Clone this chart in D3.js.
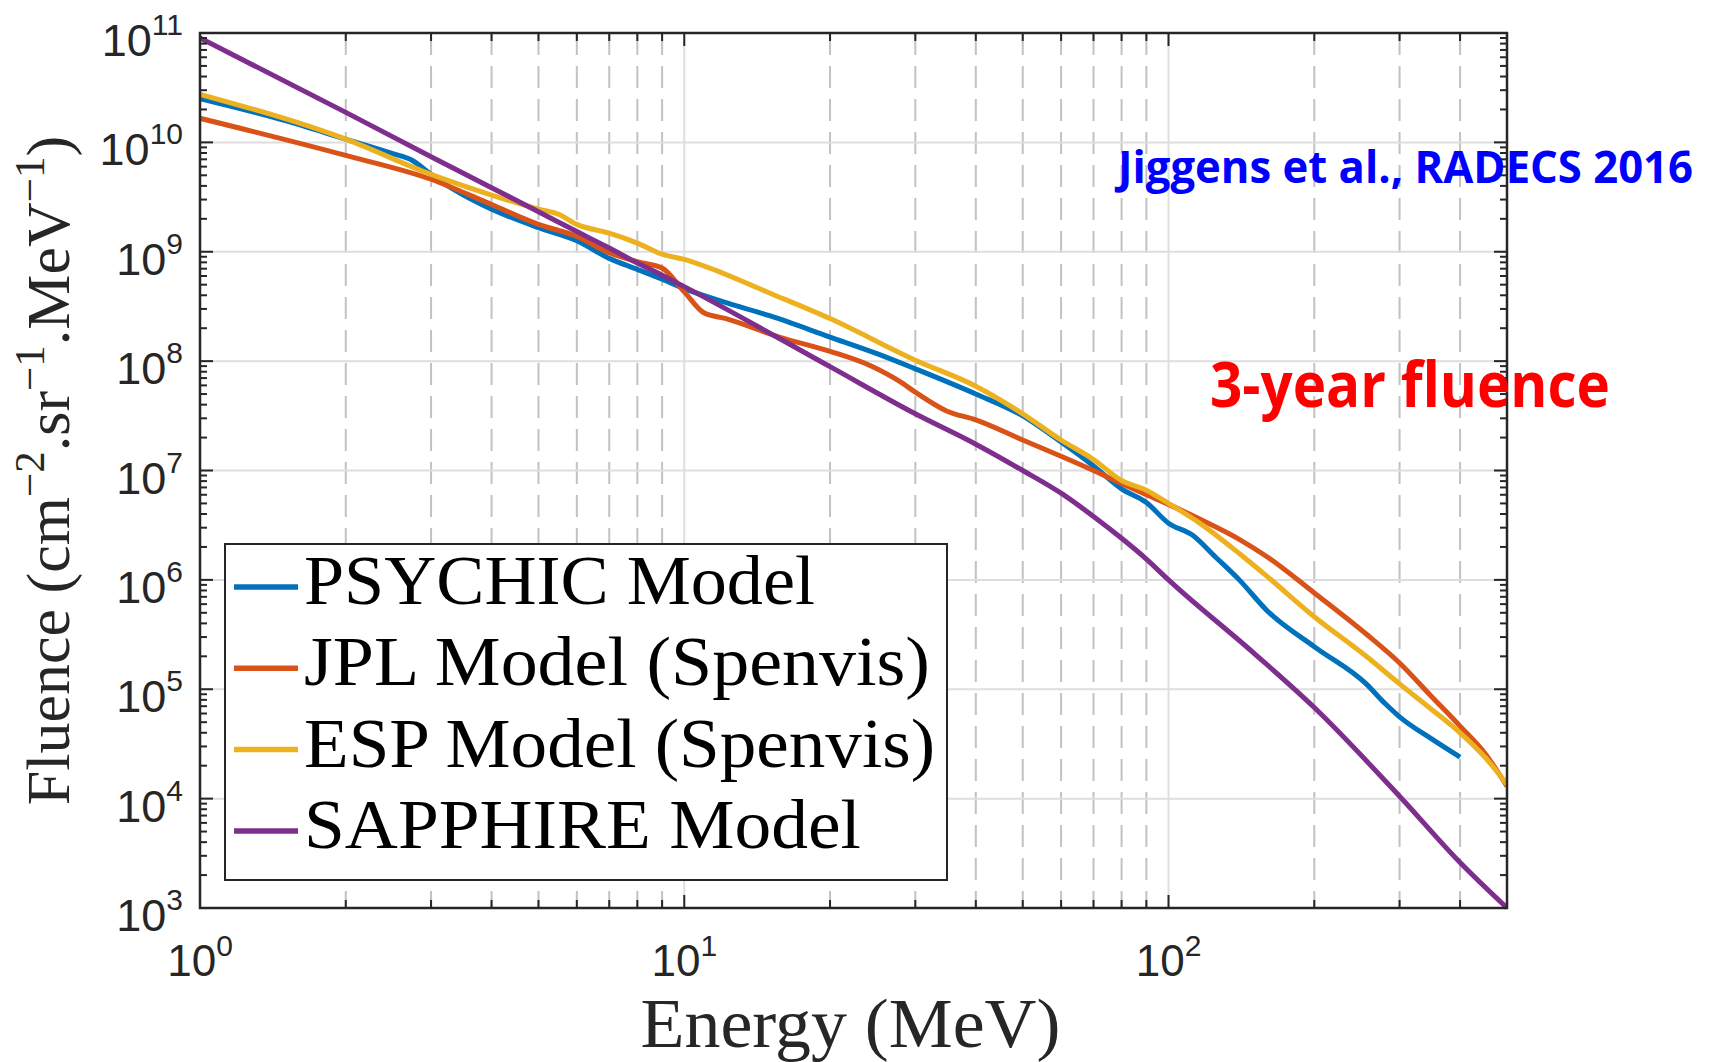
<!DOCTYPE html>
<html><head><meta charset="utf-8">
<script src="https://cdn.jsdelivr.net/npm/d3@7"></script>
<style>html,body{margin:0;padding:0;background:#fff;} svg{display:block}</style>
</head><body><svg id="chart" width="1715" height="1062"></svg>
<script>
// ---------------- data ----------------
const energyPSYCHIC = [1,1.5,2,2.5,2.75,3,3.25,3.5,4,5,6,7,8,9,10,12,15,20,25,30,40,50,60,70,80,90,100,112,125,140,160,200,256,280,300,350,400];
const fluencePSYCHIC = [2.51e10,1.58e10,1.07e10,7.9e9,6.8e9,5.1e9,4.0e9,3.3e9,2.45e9,1.66e9,1.26e9,8.7e8,6.9e8,5.6e8,4.6e8,3.5e8,2.6e8,1.66e8,1.17e8,8.5e7,5.0e7,3.16e7,1.82e7,1.1e7,6.8e6,5.1e6,3.3e6,2.57e6,1.62e6,1.0e6,5.2e5,2.45e5,1.12e5,7.4e4,5.6e4,3.5e4,2.4e4];

const energyJPL = [1,2,3,4,5,6,7,8,9,10,11,12.2,15.7,20,24.5,27.9,30,34.8,40,50,60,70,80,90,100,116,140,160,200,256,300,350,400,450,500];
const fluenceJPL = [1.66e10,7.6e9,4.6e9,2.7e9,1.78e9,1.38e9,9.8e8,8.1e8,7.1e8,4.3e8,2.75e8,2.45e8,1.66e8,1.23e8,8.9e7,6.5e7,5.2e7,3.5e7,2.9e7,1.9e7,1.35e7,1.0e7,7.6e6,6.0e6,4.9e6,3.6e6,2.35e6,1.62e6,7.6e5,3.2e5,1.74e5,8.5e4,4.6e4,2.6e4,1.3e4];

const energyESP = [1,2,3,4,5,5.5,6,7,8,9,10,11,15,20,30,40,50,60,70,80,90,100,116,140,160,200,256,300,350,400,450,500];
const fluenceESP = [2.75e10,1.07e10,5.1e9,3.3e9,2.45e9,2.2e9,1.78e9,1.48e9,1.2e9,9.5e8,8.5e8,7.4e8,4.2e8,2.45e8,1.02e8,5.9e7,3.3e7,1.9e7,1.26e7,8.1e6,6.6e6,5.0e6,3.3e6,1.74e6,1.07e6,4.6e5,2.0e5,1.12e5,6.5e4,4.0e4,2.4e4,1.35e4];

const energySAPPHIRE = [1,2,3,4,5,6,7,8,9,10,20,30,40,50,60,70,80,90,100,150,200,300,400,500];
const fluenceSAPPHIRE = [9.0e10,1.88e10,7.4e9,3.85e9,2.32e9,1.53e9,1.08e9,7.9e8,6.1e8,4.8e8,8.9e7,3.3e7,1.74e7,1.0e7,6.2e6,3.8e6,2.4e6,1.55e6,1.0e6,2.14e5,6.8e4,1.05e4,2.6e3,1.0e3];

const seriesNames = ["PSYCHIC Model","JPL Model (Spenvis)","ESP Model (Spenvis)","SAPPHIRE Model"];
const seriesColors = ["#0072BD","#D95319","#EDB120","#7E2F8E"];

const xTickValues = [1,10,100];
const xTickExponents = ["0","1","2"];
const yTickValues = [1e3,1e4,1e5,1e6,1e7,1e8,1e9,1e10,1e11];
const yTickExponents = ["3","4","5","6","7","8","9","10","11"];

// ---------------- chart ----------------
const svg = d3.select("#chart");
const L = 200, R = 1507, T = 33, B = 908;
const x = d3.scaleLog().domain([1, 500]).range([L, R]);
const y = d3.scaleLog().domain([1e3, 1e11]).range([B, T]);
const ink = "#262626";

svg.append("rect").attr("width", 1715).attr("height", 1062).attr("fill", "#fff");

const isMajor = v => Math.abs(Math.log10(v) - Math.round(Math.log10(v))) < 1e-9;
const xMinor = x.ticks().filter(v => !isMajor(v) && v < 500);
const yMinor = y.ticks().filter(v => !isMajor(v));

// grid
const grid = svg.append("g");
grid.selectAll(".xminor").data(xMinor).join("line")
  .attr("x1", d => x(d)).attr("x2", d => x(d)).attr("y1", T).attr("y2", B)
  .attr("stroke", "#c2c2c2").attr("stroke-width", 2).attr("stroke-dasharray", "22,11");
grid.selectAll(".xmajor").data(xTickValues.filter(v => v > 1)).join("line")
  .attr("x1", d => x(d)).attr("x2", d => x(d)).attr("y1", T).attr("y2", B)
  .attr("stroke", "#dedede").attr("stroke-width", 2);
grid.selectAll(".ymajor").data(yTickValues.filter(v => v > 1e3 && v < 1e11)).join("line")
  .attr("x1", L).attr("x2", R).attr("y1", d => y(d)).attr("y2", d => y(d))
  .attr("stroke", "#dedede").attr("stroke-width", 2);

// lines
const series = [
  {E: energyPSYCHIC, F: fluencePSYCHIC},
  {E: energyJPL, F: fluenceJPL},
  {E: energyESP, F: fluenceESP},
  {E: energySAPPHIRE, F: fluenceSAPPHIRE}
].map((s, i) => ({name: seriesNames[i], color: seriesColors[i], pts: s.E.map((e, j) => [e, s.F[j]])}));

svg.append("clipPath").attr("id", "plotclip").append("rect")
  .attr("x", L).attr("y", T - 3).attr("width", R - L).attr("height", B - T + 6);

const line = d3.line().x(d => x(d[0])).y(d => y(d[1])).curve(d3.curveMonotoneX);
svg.append("g").attr("clip-path", "url(#plotclip)")
  .selectAll("path").data(series).join("path")
  .attr("d", d => line(d.pts)).attr("fill", "none")
  .attr("stroke", d => d.color).attr("stroke-width", 5)
  .attr("stroke-linejoin", "round").attr("stroke-linecap", "butt");

// ticks (inward, all four sides)
const tk = svg.append("g").attr("stroke", ink).attr("stroke-width", 2);
xTickValues.forEach(v => {
  tk.append("line").attr("x1", x(v)).attr("x2", x(v)).attr("y1", B).attr("y2", B - 13);
  tk.append("line").attr("x1", x(v)).attr("x2", x(v)).attr("y1", T).attr("y2", T + 13);
});
xMinor.forEach(v => {
  tk.append("line").attr("x1", x(v)).attr("x2", x(v)).attr("y1", B).attr("y2", B - 8);
  tk.append("line").attr("x1", x(v)).attr("x2", x(v)).attr("y1", T).attr("y2", T + 8);
});
yTickValues.forEach(v => {
  tk.append("line").attr("x1", L).attr("x2", L + 13).attr("y1", y(v)).attr("y2", y(v));
  tk.append("line").attr("x1", R).attr("x2", R - 13).attr("y1", y(v)).attr("y2", y(v));
});
yMinor.forEach(v => {
  tk.append("line").attr("x1", L).attr("x2", L + 7).attr("y1", y(v)).attr("y2", y(v));
  tk.append("line").attr("x1", R).attr("x2", R - 7).attr("y1", y(v)).attr("y2", y(v));
});

// axes box
svg.append("rect").attr("x", L).attr("y", T).attr("width", R - L).attr("height", B - T)
  .attr("fill", "none").attr("stroke", ink).attr("stroke-width", 2.5);

// tick labels
const tickFont = "'Liberation Sans', Arial, Helvetica, sans-serif";
yTickValues.forEach((v, i) => {
  const t = svg.append("text").attr("x", 183).attr("y", y(v) + 23)
    .attr("text-anchor", "end").attr("font-family", tickFont).attr("font-size", 45).attr("fill", ink);
  t.append("tspan").text("10");
  t.append("tspan").attr("dy", -21).attr("font-size", 30).text(yTickExponents[i]);
});
xTickValues.forEach((v, i) => {
  const t = svg.append("text").attr("x", x(v)).attr("y", 976)
    .attr("text-anchor", "middle").attr("font-family", tickFont).attr("font-size", 44).attr("fill", ink);
  t.append("tspan").text("10");
  t.append("tspan").attr("dy", -20).attr("font-size", 30).text(xTickExponents[i]);
});

// axis titles
const serif = "'Liberation Serif', 'Times New Roman', 'DejaVu Serif', serif";
svg.append("text").attr("x", (L + R) / 2 - 3).attr("y", 1047).attr("text-anchor", "middle")
  .attr("font-family", serif).attr("font-size", 69).attr("fill", ink)
  .attr("textLength", 420).attr("lengthAdjust", "spacingAndGlyphs").text("Energy (MeV)");

const yt = svg.append("text").attr("transform", `translate(69,${(T + B) / 2}) rotate(-90)`)
  .attr("text-anchor", "middle").attr("font-family", serif).attr("font-size", 62).attr("fill", ink);
yt.append("tspan").text("Fluence (cm");
yt.append("tspan").attr("dy", -25).attr("font-size", 43).text("\u22122");
yt.append("tspan").attr("dy", 25).text(".sr");
yt.append("tspan").attr("dy", -25).attr("font-size", 43).text("\u22121");
yt.append("tspan").attr("dy", 25).text(".MeV");
yt.append("tspan").attr("dy", -25).attr("font-size", 43).text("\u22121");
yt.append("tspan").attr("dy", 25).text(")");

// legend
const legendTextLengths = [511, 626, 631, 557];
const lg = svg.append("g");
lg.append("rect").attr("x", 225).attr("y", 544).attr("width", 722).attr("height", 336)
  .attr("fill", "#fff").attr("stroke", ink).attr("stroke-width", 2);
series.forEach((s, i) => {
  const cy = 587 + i * 81.3;
  lg.append("line").attr("x1", 234).attr("x2", 298).attr("y1", cy).attr("y2", cy)
    .attr("stroke", s.color).attr("stroke-width", 5.5);
  lg.append("text").attr("x", 304).attr("y", cy + 17)
    .attr("font-family", serif).attr("font-size", 70).attr("fill", "#000")
    .attr("textLength", legendTextLengths[i]).attr("lengthAdjust", "spacingAndGlyphs")
    .text(s.name);
});

// annotations
const annFont = "'Open Sans', 'Noto Sans', 'Liberation Sans', sans-serif";
svg.append("text").attr("x", 1118).attr("y", 183)
  .attr("font-family", annFont).attr("font-weight", "bold").attr("font-size", 45)
  .attr("fill", "#0000FF").attr("textLength", 575).attr("lengthAdjust", "spacingAndGlyphs")
  .text("Jiggens et al., RADECS 2016");
svg.append("text").attr("x", 1210).attr("y", 407)
  .attr("font-family", annFont).attr("font-weight", "bold").attr("font-size", 62)
  .attr("fill", "#FF0000").attr("textLength", 400).attr("lengthAdjust", "spacingAndGlyphs")
  .text("3-year fluence");
</script>
</body></html>
